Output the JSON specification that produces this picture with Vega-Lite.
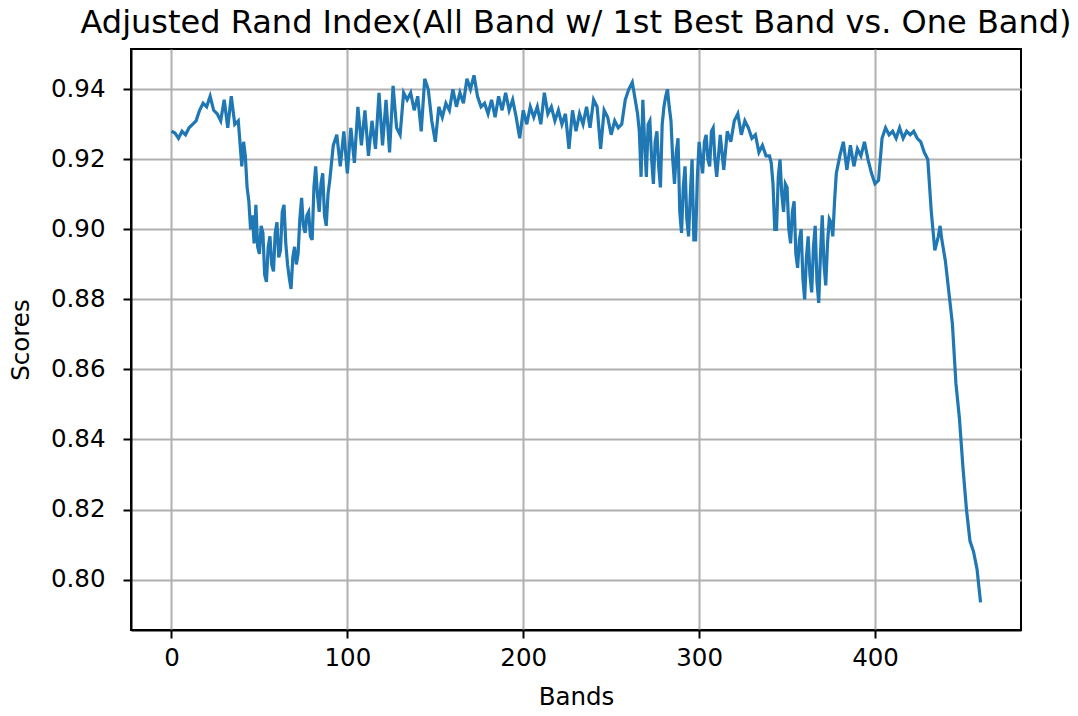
{
  "$schema": "https://vega.github.io/schema/vega-lite/v6.json",
  "width": 890,
  "height": 581,
  "autosize": {"type": "none"},
  "padding": {"left": 131, "top": 49, "right": 57, "bottom": 86},
  "background": "white",
  "title": {"text": "Adjusted Rand Index(All Band w/ 1st Best Band vs. One Band)", "font": "DejaVu Sans", "fontSize": 32, "fontWeight": "normal", "color": "black", "anchor": "middle", "offset": 9},
  "config": {
    "view": {"stroke": "black", "strokeWidth": 2},
    "axis": {"labelFont": "DejaVu Sans", "titleFont": "DejaVu Sans", "labelFontSize": 24.5, "titleFontSize": 24.5, "titleFontWeight": "normal", "labelColor": "black", "titleColor": "black", "gridColor": "#b0b0b0", "gridWidth": 2, "gridOpacity": 1, "tickColor": "black", "tickSize": 8, "tickWidth": 2, "domainColor": "black", "domainWidth": 2, "labelPadding": 8}
  },
  "data": {"values": [
    {"band": 0, "score": 0.928}, {"band": 2, "score": 0.9275}, {"band": 4, "score": 0.926}, {"band": 6, "score": 0.928},
    {"band": 8, "score": 0.927}, {"band": 10, "score": 0.929}, {"band": 12, "score": 0.930}, {"band": 14, "score": 0.931},
    {"band": 16, "score": 0.934}, {"band": 18, "score": 0.936}, {"band": 20, "score": 0.935}, {"band": 22, "score": 0.938},
    {"band": 24, "score": 0.934}, {"band": 26, "score": 0.933}, {"band": 28, "score": 0.931}, {"band": 30, "score": 0.937},
    {"band": 32, "score": 0.929}, {"band": 34, "score": 0.938}, {"band": 36, "score": 0.930}, {"band": 38, "score": 0.931},
    {"band": 40, "score": 0.918}, {"band": 41, "score": 0.925}, {"band": 42, "score": 0.921}, {"band": 43, "score": 0.912},
    {"band": 44, "score": 0.908}, {"band": 45, "score": 0.900}, {"band": 46, "score": 0.904}, {"band": 47, "score": 0.896},
    {"band": 48, "score": 0.907}, {"band": 49, "score": 0.895}, {"band": 50, "score": 0.893}, {"band": 51, "score": 0.901},
    {"band": 52, "score": 0.899}, {"band": 53, "score": 0.887}, {"band": 54, "score": 0.885}, {"band": 55, "score": 0.895},
    {"band": 56, "score": 0.898}, {"band": 57, "score": 0.890}, {"band": 58, "score": 0.888}, {"band": 59, "score": 0.899},
    {"band": 60, "score": 0.902}, {"band": 61, "score": 0.892}, {"band": 62, "score": 0.894}, {"band": 63, "score": 0.905},
    {"band": 64, "score": 0.907}, {"band": 65, "score": 0.896}, {"band": 66, "score": 0.890}, {"band": 67, "score": 0.886},
    {"band": 68, "score": 0.883}, {"band": 69, "score": 0.892}, {"band": 70, "score": 0.895}, {"band": 71, "score": 0.890},
    {"band": 72, "score": 0.893}, {"band": 73, "score": 0.903}, {"band": 74, "score": 0.909}, {"band": 75, "score": 0.901},
    {"band": 76, "score": 0.899}, {"band": 77, "score": 0.904}, {"band": 78, "score": 0.905}, {"band": 79, "score": 0.898},
    {"band": 80, "score": 0.897}, {"band": 81, "score": 0.912}, {"band": 82, "score": 0.918}, {"band": 83, "score": 0.910},
    {"band": 84, "score": 0.905}, {"band": 85, "score": 0.913}, {"band": 86, "score": 0.916}, {"band": 87, "score": 0.904},
    {"band": 88, "score": 0.901}, {"band": 89, "score": 0.910}, {"band": 90, "score": 0.914}, {"band": 91, "score": 0.919},
    {"band": 92, "score": 0.924}, {"band": 94, "score": 0.927},
    {"band": 96, "score": 0.918}, {"band": 98, "score": 0.928}, {"band": 100, "score": 0.916}, {"band": 102, "score": 0.929},
    {"band": 104, "score": 0.919}, {"band": 106, "score": 0.935}, {"band": 108, "score": 0.924}, {"band": 110, "score": 0.934},
    {"band": 112, "score": 0.921}, {"band": 114, "score": 0.931}, {"band": 116, "score": 0.923}, {"band": 118, "score": 0.939},
    {"band": 120, "score": 0.924}, {"band": 122, "score": 0.937}, {"band": 124, "score": 0.922}, {"band": 126, "score": 0.941},
    {"band": 128, "score": 0.929}, {"band": 130, "score": 0.927}, {"band": 132, "score": 0.939}, {"band": 134, "score": 0.937},
    {"band": 136, "score": 0.939}, {"band": 138, "score": 0.934}, {"band": 140, "score": 0.938}, {"band": 142, "score": 0.928},
    {"band": 144, "score": 0.943}, {"band": 146, "score": 0.940}, {"band": 148, "score": 0.931}, {"band": 150, "score": 0.925},
    {"band": 152, "score": 0.935}, {"band": 154, "score": 0.932}, {"band": 156, "score": 0.936}, {"band": 158, "score": 0.934},
    {"band": 160, "score": 0.940}, {"band": 162, "score": 0.935}, {"band": 164, "score": 0.939}, {"band": 166, "score": 0.936},
    {"band": 168, "score": 0.943}, {"band": 170, "score": 0.940}, {"band": 172, "score": 0.944}, {"band": 174, "score": 0.938},
    {"band": 176, "score": 0.935}, {"band": 178, "score": 0.936}, {"band": 180, "score": 0.933}, {"band": 182, "score": 0.937},
    {"band": 184, "score": 0.932}, {"band": 186, "score": 0.938}, {"band": 188, "score": 0.934}, {"band": 190, "score": 0.939},
    {"band": 192, "score": 0.934}, {"band": 194, "score": 0.937}, {"band": 196, "score": 0.932}, {"band": 198, "score": 0.926},
    {"band": 200, "score": 0.934}, {"band": 202, "score": 0.930}, {"band": 204, "score": 0.935}, {"band": 206, "score": 0.932},
    {"band": 208, "score": 0.935}, {"band": 210, "score": 0.930}, {"band": 212, "score": 0.939}, {"band": 214, "score": 0.933},
    {"band": 216, "score": 0.935}, {"band": 218, "score": 0.931}, {"band": 220, "score": 0.934}, {"band": 222, "score": 0.930},
    {"band": 224, "score": 0.933}, {"band": 226, "score": 0.923}, {"band": 228, "score": 0.934}, {"band": 230, "score": 0.928},
    {"band": 232, "score": 0.933}, {"band": 234, "score": 0.930}, {"band": 236, "score": 0.935}, {"band": 238, "score": 0.929},
    {"band": 240, "score": 0.937}, {"band": 242, "score": 0.935}, {"band": 244, "score": 0.923}, {"band": 246, "score": 0.934},
    {"band": 248, "score": 0.932}, {"band": 250, "score": 0.927}, {"band": 252, "score": 0.931}, {"band": 254, "score": 0.929},
    {"band": 256, "score": 0.930}, {"band": 258, "score": 0.937}, {"band": 260, "score": 0.940}, {"band": 262, "score": 0.942},
    {"band": 264, "score": 0.936}, {"band": 265, "score": 0.933}, {"band": 266, "score": 0.928}, {"band": 267, "score": 0.915},
    {"band": 268, "score": 0.937}, {"band": 269, "score": 0.925}, {"band": 270, "score": 0.915}, {"band": 271, "score": 0.930},
    {"band": 272, "score": 0.931}, {"band": 273, "score": 0.920}, {"band": 274, "score": 0.913}, {"band": 275, "score": 0.925},
    {"band": 276, "score": 0.928}, {"band": 277, "score": 0.918}, {"band": 278, "score": 0.912}, {"band": 279, "score": 0.930},
    {"band": 280, "score": 0.935}, {"band": 281, "score": 0.938}, {"band": 282, "score": 0.940}, {"band": 283, "score": 0.935},
    {"band": 284, "score": 0.931}, {"band": 285, "score": 0.920}, {"band": 286, "score": 0.913}, {"band": 287, "score": 0.922},
    {"band": 288, "score": 0.926}, {"band": 289, "score": 0.905}, {"band": 290, "score": 0.899}, {"band": 291, "score": 0.912},
    {"band": 292, "score": 0.918}, {"band": 293, "score": 0.903}, {"band": 294, "score": 0.898}, {"band": 295, "score": 0.910},
    {"band": 296, "score": 0.920}, {"band": 297, "score": 0.897}, {"band": 298, "score": 0.897}, {"band": 299, "score": 0.915},
    {"band": 300, "score": 0.925}, {"band": 301, "score": 0.920}, {"band": 302, "score": 0.916}, {"band": 303, "score": 0.925},
    {"band": 304, "score": 0.927}, {"band": 305, "score": 0.920}, {"band": 306, "score": 0.918}, {"band": 307, "score": 0.928},
    {"band": 308, "score": 0.929}, {"band": 309, "score": 0.920}, {"band": 310, "score": 0.915},
    {"band": 312, "score": 0.927}, {"band": 314, "score": 0.917}, {"band": 316, "score": 0.928}, {"band": 318, "score": 0.925},
    {"band": 320, "score": 0.931}, {"band": 322, "score": 0.933}, {"band": 324, "score": 0.927}, {"band": 326, "score": 0.931},
    {"band": 328, "score": 0.929}, {"band": 330, "score": 0.926}, {"band": 332, "score": 0.927}, {"band": 334, "score": 0.922},
    {"band": 336, "score": 0.924}, {"band": 338, "score": 0.921}, {"band": 340, "score": 0.921}, {"band": 341, "score": 0.919},
    {"band": 342, "score": 0.913}, {"band": 343, "score": 0.900}, {"band": 344, "score": 0.900}, {"band": 345, "score": 0.915},
    {"band": 346, "score": 0.920}, {"band": 347, "score": 0.910}, {"band": 348, "score": 0.905}, {"band": 349, "score": 0.913},
    {"band": 350, "score": 0.912}, {"band": 351, "score": 0.900}, {"band": 352, "score": 0.896}, {"band": 353, "score": 0.905},
    {"band": 354, "score": 0.908}, {"band": 355, "score": 0.893}, {"band": 356, "score": 0.889}, {"band": 357, "score": 0.897},
    {"band": 358, "score": 0.900}, {"band": 359, "score": 0.886}, {"band": 360, "score": 0.880}, {"band": 361, "score": 0.892},
    {"band": 362, "score": 0.898}, {"band": 363, "score": 0.887}, {"band": 364, "score": 0.882}, {"band": 365, "score": 0.895},
    {"band": 366, "score": 0.901}, {"band": 367, "score": 0.885}, {"band": 368, "score": 0.879}, {"band": 369, "score": 0.893},
    {"band": 370, "score": 0.904}, {"band": 371, "score": 0.890}, {"band": 372, "score": 0.884}, {"band": 373, "score": 0.896},
    {"band": 374, "score": 0.903}, {"band": 375, "score": 0.902}, {"band": 376, "score": 0.898}, {"band": 377, "score": 0.908},
    {"band": 378, "score": 0.916}, {"band": 380, "score": 0.921}, {"band": 382, "score": 0.925},
    {"band": 384, "score": 0.917}, {"band": 386, "score": 0.924}, {"band": 388, "score": 0.918}, {"band": 390, "score": 0.923},
    {"band": 392, "score": 0.921}, {"band": 394, "score": 0.925}, {"band": 396, "score": 0.920}, {"band": 398, "score": 0.916},
    {"band": 400, "score": 0.913}, {"band": 402, "score": 0.914}, {"band": 404, "score": 0.926}, {"band": 406, "score": 0.929},
    {"band": 408, "score": 0.927}, {"band": 410, "score": 0.928}, {"band": 412, "score": 0.926}, {"band": 414, "score": 0.929},
    {"band": 416, "score": 0.926}, {"band": 418, "score": 0.928}, {"band": 420, "score": 0.927}, {"band": 422, "score": 0.928},
    {"band": 424, "score": 0.926}, {"band": 426, "score": 0.925}, {"band": 428, "score": 0.922}, {"band": 430, "score": 0.920},
    {"band": 432, "score": 0.905}, {"band": 434, "score": 0.894}, {"band": 436, "score": 0.898}, {"band": 437, "score": 0.901},
    {"band": 438, "score": 0.897}, {"band": 440, "score": 0.891}, {"band": 442, "score": 0.882}, {"band": 444, "score": 0.873},
    {"band": 446, "score": 0.856}, {"band": 448, "score": 0.846}, {"band": 450, "score": 0.832}, {"band": 452, "score": 0.820},
    {"band": 454, "score": 0.811}, {"band": 456, "score": 0.808}, {"band": 458, "score": 0.803}, {"band": 460, "score": 0.7935}
  ]},
  "mark": {"type": "line", "color": "#1f77b4", "strokeWidth": 3.2, "clip": true},
  "encoding": {
    "x": {"field": "band", "type": "quantitative", "title": "Bands",
      "scale": {"domain": [-23, 483], "nice": false, "zero": false},
      "axis": {"values": [0, 100, 200, 300, 400], "format": "d", "titlePadding": 16}},
    "y": {"field": "score", "type": "quantitative", "title": "Scores",
      "scale": {"domain": [0.7856, 0.9515], "nice": false, "zero": false},
      "axis": {"values": [0.80, 0.82, 0.84, 0.86, 0.88, 0.90, 0.92, 0.94], "format": ".2f", "labelPadding": 18, "titlePadding": 17}}
  }
}
